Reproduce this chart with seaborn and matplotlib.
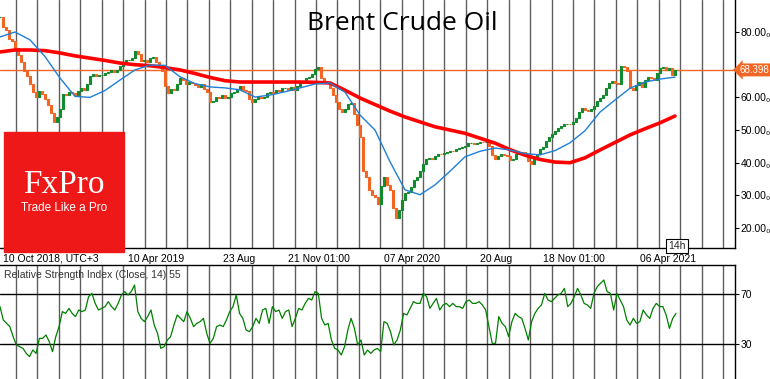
import numpy as np
import matplotlib
matplotlib.use("Agg")
import matplotlib.pyplot as plt
from matplotlib.patches import Rectangle
import seaborn as sns

# ---------------- data ----------------
# daily Brent closes, one value every 3 bars
close = [84.6, 81.5, 80.6, 78.0, 77.3, 75.0, 73.0, 70.8, 68.0, 66.6,
         64.0, 61.5, 60.2, 61.8, 61.0, 59.6, 57.8, 55.2, 52.6, 54.0,
         56.5, 61.0, 60.7, 61.5, 61.4, 60.8, 62.0, 62.8, 62.4, 64.0,
         66.5, 67.3, 66.5, 66.9, 66.9, 67.4, 67.8, 68.3, 67.9, 68.3,
         69.6, 70.7, 71.4, 71.5, 71.9, 74.3, 73.4, 71.2, 71.4, 70.9,
         72.0, 72.4, 70.8, 69.5, 68.0, 63.5, 61.4, 62.7, 62.3, 64.0,
         65.8, 65.4, 64.0, 64.6, 64.4, 63.9, 63.3, 64.2, 62.6, 61.5,
         58.6, 59.0, 60.0, 59.8, 60.6, 59.9, 60.0, 61.2, 61.6, 62.7,
         63.6, 62.4, 61.8, 59.6, 58.6, 59.6, 60.0, 59.9, 60.0, 61.2,
         61.7, 61.4, 62.2, 61.8, 62.8, 62.9, 62.4, 63.1, 62.3, 63.6,
         64.3, 65.1, 65.8, 66.3, 67.3, 68.8, 69.3, 65.8, 64.6, 64.6,
         63.0, 60.8, 58.5, 56.5, 55.6, 56.5, 58.0, 58.4, 55.0, 51.5,
         48.0, 37.5, 35.5, 31.5, 30.0, 29.5, 27.5, 33.0, 35.5, 33.3,
         31.6, 26.0, 23.0, 25.5, 28.5, 30.8, 31.0, 32.6, 34.8, 35.6,
         37.6, 39.7, 41.2, 41.5, 41.0, 42.0, 42.8, 42.6, 43.1, 43.3,
         43.7, 43.5, 44.2, 44.5, 44.7, 45.2, 45.9, 46.1, 45.7, 45.9,
         46.3, 46.2, 46.3, 45.2, 42.3, 41.0, 42.0, 42.8, 42.4, 42.0,
         40.8, 41.0, 42.8, 43.2, 43.2, 42.8, 40.5, 39.5, 41.8, 42.8,
         44.2, 44.7, 46.5, 48.0, 48.8, 49.6, 50.5, 51.2, 51.8, 52.0,
         51.8, 52.4, 53.8, 55.6, 56.6, 56.0, 55.8, 56.4, 57.5, 59.0,
         59.9, 60.8, 62.8, 64.3, 65.0, 64.4, 64.2, 69.5, 69.4, 68.2,
         62.9, 62.3, 63.8, 64.7, 63.2, 65.3, 66.3, 66.0, 65.3, 67.5,
         69.0, 69.3, 68.4, 69.0, 66.9, 68.4]

# moving averages, one value every 15 bars
ma_fast = [78.5, 80.0, 77.6, 72.5, 65.9, 60.3, 60.0, 62.1, 65.3, 68.4,
           69.9, 69.8, 66.3, 64.2, 63.2, 62.9, 62.3, 60.1, 60.7, 61.7,
           62.9, 64.1, 64.4, 61.6, 54.6, 50.0, 40.3, 31.7, 30.2, 33.2,
           37.4, 41.8, 43.5, 44.5, 43.9, 42.8, 42.4, 43.7, 46.1, 49.8,
           55.5, 59.2, 62.8, 64.7, 65.6, 66.2]
ma_slow = [73.9, 74.5, 74.5, 74.3, 73.6, 72.7, 72.0, 71.3, 70.5, 70.0,
           69.7, 69.1, 68.4, 67.3, 66.1, 65.1, 64.7, 64.7, 64.7, 64.7,
           64.7, 64.6, 64.4, 62.2, 59.8, 57.8, 55.8, 54.0, 52.5, 51.0,
           50.0, 49.0, 47.5, 46.0, 44.0, 42.3, 41.0, 40.2, 40.0, 41.5,
           43.9, 46.2, 48.5, 50.4, 52.2, 54.3]

# RSI(14), evenly spaced over the price bars
rsi = [59.9, 49.2, 46.5, 43.9, 35.9, 29.2, 27.9, 26.5, 22.5, 19.9,
       25.2, 22.5, 34.5, 34.5, 37.2, 31.9, 23.9,
       35.9, 43.9, 55.9, 54.5, 58.5, 54.5, 51.9, 57.2, 55.9, 57.2,
       67.9, 70.5, 62.5, 57.2, 58.5, 59.9, 63.9, 59.9, 57.2, 62.5,
       69.2, 71.9, 69.2, 71.9, 77.2, 55.9, 50.5, 47.9, 51.9, 57.2,
       45.2, 38.5, 26.5, 27.9, 33.2, 35.9, 45.2, 53.2, 50.5, 47.9,
       55.9, 50.5, 43.9, 46.5, 47.9, 50.5, 38.5, 30.5, 34.5, 43.9,
       45.2, 43.9, 49.2, 55.9, 59.9, 69.2, 54.5, 50.5, 41.2, 39.9,
       43.9, 50.5, 46.5, 57.2, 58.5, 46.5, 59.9, 55.9, 57.2, 50.5,
       55.9, 57.2, 43.9, 50.5, 58.5, 57.2, 62.5, 66.5, 65.2, 71.9,
       70.5, 50.5, 45.2, 46.5, 33.2, 26.5, 25.2, 21.2, 27.9, 41.2,
       50.5, 42.5, 29.2, 33.2, 21.2, 25.2, 22.5, 25.2, 26.5, 23.9,
       47.9, 46.5, 39.9, 29.2, 33.2, 41.2, 54.5, 53.2, 58.5, 63.9,
       62.5, 62.5, 70.5, 67.9, 58.5, 62.5, 66.5, 57.2, 61.2, 62.5,
       59.9, 62.5, 59.9, 59.9, 58.5, 63.9, 65.2, 62.5, 62.5, 63.9,
       61.2, 57.2, 43.9, 30.5, 30.5,
       51.9, 46.5, 43.9, 35.9, 47.9, 54.5, 51.9, 50.5, 42.5, 33.2,
       47.9, 54.5, 58.5, 61.2, 70.5, 65.2, 63.9, 66.5, 69.2, 70.5,
       74.5, 59.9, 62.5, 67.9, 74.5, 69.2, 62.5, 61.2, 58.5, 70.5,
       75.9, 78.5, 81.2, 71.9, 70.5, 57.2, 70.5, 65.2, 59.9, 49.2,
       45.2, 50.5, 46.5, 47.9, 57.2, 53.2, 50.5, 58.5, 62.5, 59.9,
       59.9, 53.2, 42.5, 50.5, 54.5]

last_price = 68.398
price_ticks = [20, 30, 40, 50, 60, 80]
rsi_levels = [30, 70]
date_bars = [3, 128, 223, 288, 384, 480, 543, 640]
date_labels = ["10 Oct 2018, UTC+3", "10 Apr 2019", "23 Aug", "21 Nov 01:00",
               "07 Apr 2020", "20 Aug", "18 Nov 01:00", "06 Apr 2021"]

# ---------------- styling ----------------
sns.set_style("white")
plt.rcParams["font.family"] = ["Liberation Sans", "DejaVu Sans"]

UP, DOWN = "#138a2e", "#f26522"
W, H = 770, 379

fig = plt.figure(figsize=(W / 100, H / 100), dpi=100)
ax = fig.add_axes([0, 1 - 248 / H, 735 / W, 248 / H])
ax_rsi = fig.add_axes([0, 0, 735 / W, 114 / H])

# monthly separators
for a in (ax, ax_rsi):
    for gx in np.linspace(16, 723, 34):
        a.axvline(gx, color="#5f5f5f", lw=1, zorder=0)
    a.set_xlim(0, 735)

# candles (open = previous close)
c = np.array(close)
o = np.r_[c[0], c[:-1]]
bx = np.arange(len(c)) * 3
cols = np.where(c >= o, UP, DOWN)
ax.bar(bx, c - o, bottom=o, width=2.0, color=cols, edgecolor=cols,
       linewidth=0.8, zorder=3)

# moving averages
mx = np.arange(len(ma_slow)) * 15
sns.lineplot(x=mx, y=ma_slow, ax=ax, color="#ff0000", lw=2.6, zorder=4)
sns.lineplot(x=mx, y=ma_fast, ax=ax, color="#1f7fd6", lw=1, zorder=4)

ax.axhline(last_price, color=DOWN, lw=1, zorder=2)
ax.set_ylim(13.9, 89.8)

ax.yaxis.tick_right()
ax.set_yticks(price_ticks, [f"{v:.2f}\u2080" for v in price_ticks])
ax.tick_params(axis="y", direction="out", length=3, pad=1, labelsize=7.5,
               colors="black")
ax.set_xticks(date_bars, date_labels, ha="left")
ax.tick_params(axis="x", direction="out", length=3, pad=1, labelsize=7.5,
               colors="black")
for s in ("left", "top"):
    ax.spines[s].set_visible(False)
for s in ("bottom", "right"):
    ax.spines[s].set_color("black")
    ax.spines[s].set_linewidth(1)

ax.annotate(f"{last_price:.3f}", xy=(1.0, last_price),
            xycoords=("axes fraction", "data"), xytext=(3.5, 0),
            textcoords="offset points", ha="left", va="center",
            color="white", fontsize=7,
            bbox=dict(boxstyle="larrow,pad=0.15", fc=DOWN, ec="none"),
            annotation_clip=False, zorder=6)

# RSI panel
rx = np.linspace(0, 676, len(rsi))
sns.lineplot(x=rx, y=rsi, ax=ax_rsi, color="#008000", lw=0.9, zorder=3)
for lv in rsi_levels:
    ax_rsi.axhline(lv, color="black", lw=1, zorder=2)
ax_rsi.set_ylim(2, 93.2)
ax_rsi.yaxis.tick_right()
ax_rsi.set_yticks(rsi_levels, [str(v) for v in rsi_levels])
ax_rsi.tick_params(axis="y", direction="out", length=3, pad=1,
                   labelsize=7.5, colors="black")
ax_rsi.set_xticks([])
for s in ("left", "bottom"):
    ax_rsi.spines[s].set_visible(False)
for s in ("top", "right"):
    ax_rsi.spines[s].set_color("black")
    ax_rsi.spines[s].set_linewidth(1)
ax_rsi.text(4, 85.5, "Relative Strength Index (Close, 14) 55", fontsize=7.5,
            color="#333333", va="center", ha="left")

# title
fig.text(402 / W, 1 - 24 / H, "Brent Crude Oil", fontsize=19,
         family="Open Sans", ha="center", va="center", color="black")

# FxPro logo
fig.add_artist(Rectangle((4 / W, 1 - 252 / H), 120 / W, 120 / H,
                         transform=fig.transFigure, color="#ee1818",
                         zorder=10))
fig.text(64 / W, 1 - 185 / H, "FxPro", fontsize=24, family="Liberation Serif",
         color="white", ha="center", va="center", zorder=11)
fig.text(64 / W, 1 - 208 / H, "Trade Like a Pro", fontsize=8.5,
         color="white", ha="center", va="center", zorder=11)

# current-bar timer
fig.text(677 / W, 1 - 246 / H, "14h", fontsize=7.5, ha="center",
         va="center", zorder=11,
         bbox=dict(boxstyle="square,pad=0.2", fc="white", ec="black", lw=0.8))

fig.savefig("out.png", dpi=100)
